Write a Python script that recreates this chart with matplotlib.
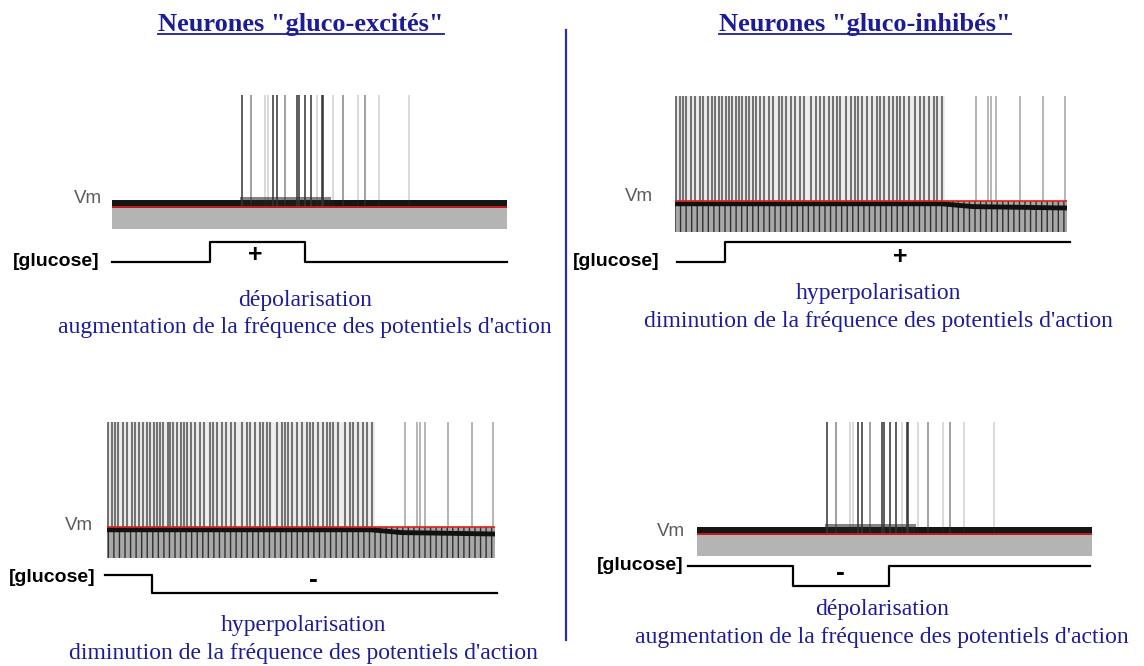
import matplotlib.pyplot as plt
from matplotlib.lines import Line2D

W, H = 1144, 666

# spike times, % of the trace duration (same recording reused in two panels)
exc_spikes = [32.8, 35.1, 38.7, 39.5, 40.7, 41.8, 43.9, 46.8, 47.3, 48.9,
              50.3, 51.8, 53.1, 53.3, 56.0, 58.6, 62.4, 64.1, 67.7, 75.3]
# 3 = dark (many sweeps overlaid), 1 = faint
exc_strength = [3, 2, 1, 1, 3, 3, 2, 3, 3, 3, 3, 1, 3, 3, 1, 2, 1, 2, 1, 1]

dense_spikes = [0.3, 1.2, 2.1, 2.9, 4.2, 5.1, 6.4, 7.2, 8.3, 9.4, 10.2, 11.1,
                12.1, 13.0, 13.7, 14.5, 15.6, 16.2, 17.1, 18.1, 19.0, 19.8,
                20.7, 21.6, 22.7, 24.0, 25.1, 26.5, 27.4, 28.3, 29.6, 30.7,
                32.0, 33.0, 34.7, 36.0, 36.9, 38.1, 39.4, 40.3, 41.2, 42.0,
                43.7, 45.0, 45.9, 46.7, 47.6, 48.9, 50.2, 51.5, 52.3, 53.2,
                54.5, 55.7, 56.6, 57.5, 58.3, 59.6, 61.3, 62.6, 63.5, 64.8,
                66.1, 66.9, 68.2]
sparse_spikes = [76.8, 79.8, 80.7, 82.0, 88.0, 94.0, 99.6]

vm_rest = -50
exc_peak = 30
dense_peak = 25
# depolarised plateau of the excited recording
exc_depol = (32.5, 55.5)
# membrane trace of the inhibited recording (slow hyperpolarisation)
dense_vm_t = [0, 68, 76, 100]
dense_vm = [-52, -52, -54, -55]

# glucose steps (1 = high, 0 = low)
glu1_t, glu1 = [0, 24.8, 48.9, 100], [0, 1, 0, 0]
glu2_t, glu2 = [-0.5, 11.5, 100.5], [1, 0, 0]
glu3_t, glu3 = [0.4, 12.8, 100.8], [0, 1, 1]
glu4_t, glu4 = [-2.3, 24.4, 48.7, 99.5], [1, 0, 1, 1]

title_l = 'Neurones "gluco-excités"'
title_r = 'Neurones "gluco-inhibés"'
depol = "dépolarisation"
hyper = "hyperpolarisation"
freq_up = "augmentation de la fréquence des potentiels d'action"
freq_dn = "diminution de la fréquence des potentiels d'action"

BLUE = "#1c1c96"
PXMV = 1.4  # pixels per mV in the trace axes

fig = plt.figure(figsize=(W / 100, H / 100), dpi=100)


def px_axes(x0, x1, ytop, ybot):
    ax = fig.add_axes([x0 / W, 1 - ybot / H, (x1 - x0) / W, (ybot - ytop) / H])
    ax.set_xlim(0, 100)
    ax.axis("off")
    return ax


def trace_axes(x0, x1, red_px):
    ax = px_axes(x0, x1, red_px - 90 * PXMV, red_px + 30 * PXMV)
    ax.set_ylim(-80, 40)
    return ax


def glucose_axes(x0, x1, hi_px, lo_px, t, g, sign, sx, sy):
    ax = px_axes(x0, x1, hi_px - (lo_px - hi_px) / 2, lo_px + (lo_px - hi_px) / 2)
    ax.set_ylim(-0.5, 1.5)
    ax.step(t, g, where="post", color="black", lw=1.6, clip_on=False)
    ax.text(sx, sy, sign, ha="center", va="center", fontsize=19 if sign == "-" else 18,
            fontweight="bold", family="Liberation Sans")
    return ax


def draw_excited(ax):
    ax.fill_between([0, 100], vm_rest - 16, vm_rest, color="#b4b4b4", lw=0)
    ax.fill_between([0, 100], vm_rest - 1, vm_rest + 5, color="#151515", lw=0)
    ax.fill_between(exc_depol, vm_rest, vm_rest + 7, color="#202020", lw=0, alpha=0.55)
    for t, s in zip(exc_spikes, exc_strength):
        ax.vlines(t, vm_rest, exc_peak, color="#333333", lw=1.3,
                  alpha=[0.2, 0.5, 0.85][s - 1])
    ax.axhline(vm_rest, color="#e01e1e", lw=1.2)


def draw_inhibited(ax):
    ax.fill_between([0, 69], vm_rest, dense_peak, color="#cfcfcf", lw=0, alpha=0.35)
    ax.fill_between([0, 100], vm_rest - 22, vm_rest, facecolor="#a8a8a8",
                    edgecolor="#303030", hatch="|||", lw=0)
    ax.vlines(dense_spikes, vm_rest, dense_peak, color="#4a4a4a", lw=1.5, alpha=0.75)
    ax.vlines(sparse_spikes, vm_rest, dense_peak, color="#555555", lw=1.1, alpha=0.55)
    ax.plot(dense_vm_t, dense_vm, color="#111111", lw=3.5)
    ax.axhline(vm_rest, color="#e01e1e", lw=1.2)


def ftext(x, y, s, **kw):
    return fig.text(x / W, 1 - y / H, s, **kw)


# top-left: glucose-excited, glucose up
draw_excited(trace_axes(112, 507, 207))
glucose_axes(112, 507, 242, 262, glu1_t, glu1, "+", 36.2, 0.35)
# bottom-left: glucose-excited, glucose down
draw_inhibited(trace_axes(107, 495, 527))
glucose_axes(107, 495, 575, 593, glu2_t, glu2, "-", 53.1, 0.7)
# top-right: glucose-inhibited, glucose up
draw_inhibited(trace_axes(675, 1067, 201))
glucose_axes(675, 1067, 242, 262, glu3_t, glu3, "+", 57.4, 0.27)
# bottom-right: glucose-inhibited, glucose down
draw_excited(trace_axes(697, 1092, 534))
glucose_axes(697, 1092, 566, 586, glu4_t, glu4, "-", 36.2, 0.64)

for x, y in [(102, 198), (93, 525), (653, 197), (685, 532)]:
    ftext(x, y, "Vm", ha="right", va="center", fontsize=13.5, color="#5a5a5a",
          family="Liberation Sans")
for x, y in [(100, 262), (96, 577), (660, 261), (684, 566)]:
    ftext(x, y, "[glucose]", ha="right", va="center", fontsize=14,
          fontweight="bold", family="Liberation Sans")

serif = dict(family="Liberation Serif", color=BLUE, ha="center", va="center", fontsize=17)
ftext(305, 300, depol, **serif)
ftext(305, 328, freq_up, **serif)
ftext(878, 293, hyper, **serif)
ftext(878, 322, freq_dn, **serif)
ftext(303, 625, hyper, **serif)
ftext(303, 653, freq_dn, **serif)
ftext(882, 610, depol, **serif)
ftext(882, 638, freq_up, **serif)

# divider
fig.add_artist(Line2D([566 / W, 566 / W], [1 - 30 / H, 1 - 640 / H],
                      color="#2d2db4", lw=1.6))

# underlined titles
titles = [ftext(301, 31, title_l, ha="center", va="baseline", fontsize=19,
                fontweight="bold", family="Liberation Serif", color=BLUE),
          ftext(865, 31, title_r, ha="center", va="baseline", fontsize=19,
                fontweight="bold", family="Liberation Serif", color=BLUE)]
fig.canvas.draw()
r = fig.canvas.get_renderer()
for t in titles:
    bb = t.get_window_extent(r)
    fig.add_artist(Line2D([bb.x0 / W, bb.x1 / W], [1 - 34 / H, 1 - 34 / H],
                          color=BLUE, lw=1.3))

fig.savefig("out.png", dpi=100)
